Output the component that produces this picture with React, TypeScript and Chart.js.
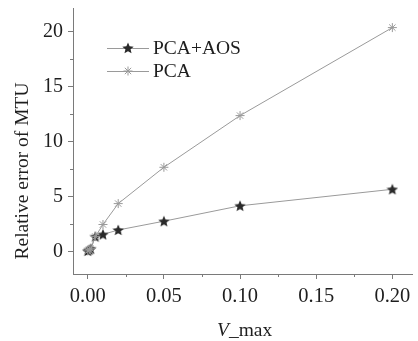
import React, { useEffect, useRef } from 'react';
import { Chart, registerables } from 'chart.js';
Chart.register(...registerables);

const vmax = [0, 0.001, 0.002, 0.005, 0.01, 0.02, 0.05, 0.1, 0.2];
const pcaAos = [0.1, 0.2, 0.3, 1.4, 1.6, 2.0, 2.8, 4.2, 5.7];
const pca = [0.1, 0.2, 0.3, 1.4, 2.5, 4.4, 7.7, 12.4, 20.4];
const seriesNames = ['PCA+AOS', 'PCA'];
const xTicks = [0, 0.05, 0.1, 0.15, 0.2];
const xMinorTicks = [0.025, 0.075, 0.125, 0.175];
const yTicks = [0, 5, 10, 15, 20];
const yMinorTicks = [2.5, 7.5, 12.5, 17.5];
const xTitleItalic = 'V';
const xTitleRest = '_max';
const yTitle = 'Relative error of MTU';

const FONT = '"Liberation Serif", "Times New Roman", serif';
const LINE = '#9a9a9a';
const AXIS = '#7a7a7a';
const TEXT = '#1e1e1e';
const STAR = '#2a2a2a';

function makeStar(size: number, color: string) {
  const c = document.createElement('canvas');
  c.width = size;
  c.height = size;
  const ctx = c.getContext('2d')!;
  const cx = size / 2, cy = size / 2 + 0.5, R = size / 2, r = R * 0.45;
  ctx.beginPath();
  for (let i = 0; i < 10; i++) {
    const a = -Math.PI / 2 + (i * Math.PI) / 5;
    const rad = i % 2 === 0 ? R : r;
    ctx.lineTo(cx + rad * Math.cos(a), cy + rad * Math.sin(a));
  }
  ctx.closePath();
  ctx.fillStyle = color;
  ctx.fill();
  return c;
}

function drawAsterisk(ctx: CanvasRenderingContext2D, x: number, y: number, r: number, color: string) {
  ctx.save();
  ctx.strokeStyle = color;
  ctx.lineWidth = 1;
  ctx.beginPath();
  ctx.moveTo(x, y - r); ctx.lineTo(x, y + r);
  ctx.moveTo(x - r, y); ctx.lineTo(x + r, y);
  const d = r * 0.7071;
  ctx.moveTo(x - d, y - d); ctx.lineTo(x + d, y + d);
  ctx.moveTo(x - d, y + d); ctx.lineTo(x + d, y - d);
  ctx.stroke();
  ctx.restore();
}

export default function App() {
  const ref = useRef<HTMLCanvasElement>(null);
  useEffect(() => {
    document.body.style.margin = '0';
    const star = makeStar(12, STAR);
    const extras = {
      id: 'extras',
      afterDraw(chart: any) {
        const ctx = chart.ctx as CanvasRenderingContext2D;
        const xs = chart.scales.x, ys = chart.scales.y;
        const ca = chart.chartArea;
        ctx.save();
        // minor ticks
        ctx.strokeStyle = AXIS;
        ctx.lineWidth = 1;
        ctx.beginPath();
        xMinorTicks.forEach((v) => {
          const px = Math.round(xs.getPixelForValue(v)) + 0.5;
          ctx.moveTo(px, ca.bottom); ctx.lineTo(px, ca.bottom + 3);
        });
        yMinorTicks.forEach((v) => {
          const py = Math.round(ys.getPixelForValue(v)) + 0.5;
          ctx.moveTo(ca.left, py); ctx.lineTo(ca.left - 3, py);
        });
        ctx.stroke();
        // legend
        const items = [
          { y: 48, name: seriesNames[0], kind: 'star' },
          { y: 71, name: seriesNames[1], kind: 'ast' },
        ];
        items.forEach((it) => {
          ctx.strokeStyle = LINE;
          ctx.beginPath();
          ctx.moveTo(107, it.y + 0.5); ctx.lineTo(149, it.y + 0.5);
          ctx.stroke();
          if (it.kind === 'star') ctx.drawImage(star, 128 - 6, it.y - 6);
          else drawAsterisk(ctx, 128, it.y, 4.5, LINE);
          ctx.fillStyle = TEXT;
          ctx.font = '19.5px ' + FONT;
          ctx.textBaseline = 'middle';
          ctx.textAlign = 'left';
          ctx.fillText(it.name, 153, it.y + 1);
        });
        // y title
        ctx.save();
        ctx.translate(23, 171);
        ctx.rotate(-Math.PI / 2);
        ctx.font = '19.5px ' + FONT;
        ctx.textAlign = 'center';
        ctx.textBaseline = 'middle';
        ctx.fillStyle = TEXT;
        ctx.fillText(yTitle, 0, 0);
        ctx.restore();
        // x title
        ctx.font = 'italic 19.5px ' + FONT;
        ctx.textBaseline = 'middle';
        ctx.textAlign = 'left';
        ctx.fillStyle = TEXT;
        ctx.fillText(xTitleItalic, 217, 331);
        const w = ctx.measureText(xTitleItalic).width;
        ctx.font = '19.5px ' + FONT;
        ctx.fillText(xTitleRest, 217 + w, 331);
        ctx.restore();
      },
    };
    const chart = new Chart(ref.current!, {
      type: 'line',
      data: {
        datasets: [
          {
            label: seriesNames[1],
            data: vmax.map((x, i) => ({ x, y: pca[i] })),
            borderColor: LINE,
            borderWidth: 1,
            pointStyle: 'star',
            pointRadius: 4.5,
            pointBorderColor: LINE,
            pointBorderWidth: 1,
            pointBackgroundColor: LINE,
            tension: 0,
          },
          {
            label: seriesNames[0],
            data: vmax.map((x, i) => ({ x, y: pcaAos[i] })),
            borderColor: LINE,
            borderWidth: 1,
            pointStyle: star as any,
            pointRadius: 5,
            tension: 0,
          },
        ],
      },
      options: {
        animation: false,
        responsive: false,
        events: [],
        layout: { padding: { top: 8, right: 0, left: 0, bottom: 0 } },
        plugins: { legend: { display: false }, tooltip: { enabled: false } },
        scales: {
          x: {
            type: 'linear',
            min: -0.00968,
            max: 0.2129,
            afterBuildTicks: (s: any) => { s.ticks = xTicks.map((v) => ({ value: v })); },
            afterFit: (s: any) => { s.height = 67; s.paddingLeft = 0; s.paddingRight = 0; },
            grid: { drawOnChartArea: false, drawTicks: true, tickLength: 5, tickColor: AXIS },
            border: { display: true, color: AXIS, width: 1 },
            ticks: {
              color: TEXT,
              font: { family: FONT, size: 20.5 },
              padding: 5,
              maxRotation: 0,
              autoSkip: false,
              callback: (v: any) => Number(v).toFixed(2),
            },
          },
          y: {
            type: 'linear',
            min: -2,
            max: 22.18,
            afterBuildTicks: (s: any) => { s.ticks = yTicks.map((v) => ({ value: v })); },
            afterFit: (s: any) => { s.width = 73; s.paddingTop = 0; s.paddingBottom = 0; },
            grid: { drawOnChartArea: false, drawTicks: true, tickLength: 5, tickColor: AXIS },
            border: { display: true, color: AXIS, width: 1 },
            ticks: {
              color: TEXT,
              font: { family: FONT, size: 20 },
              padding: 5,
              autoSkip: false,
              callback: (v: any) => String(v),
            },
          },
        },
      },
      plugins: [extras],
    });
    return () => chart.destroy();
  }, []);
  return (
    <div style={{ width: 418, height: 341, background: '#fff' }}>
      <canvas ref={ref} width={418} height={341} style={{ display: 'block' }} />
    </div>
  );
}
